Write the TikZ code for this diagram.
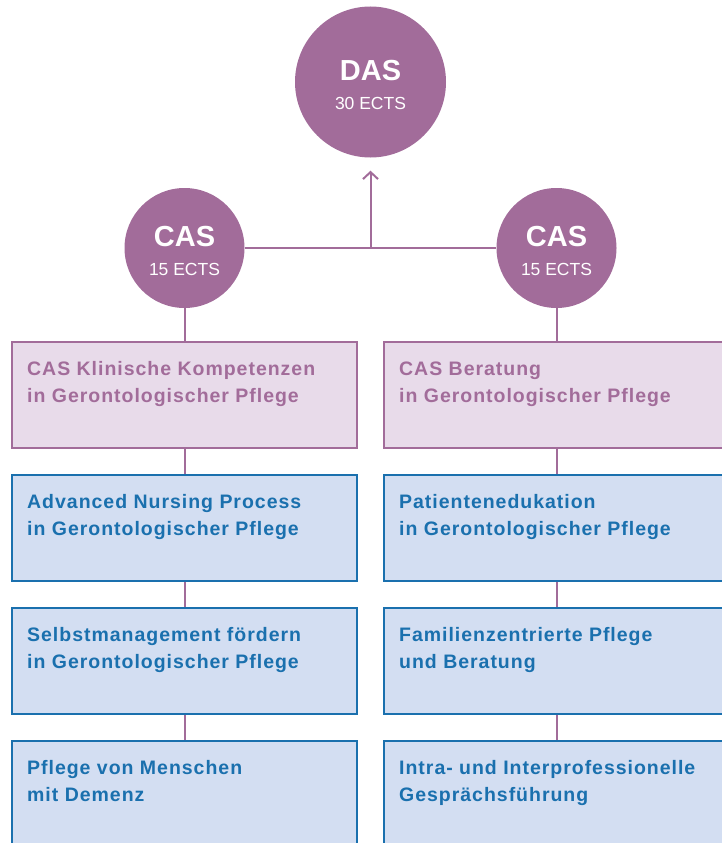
\documentclass[tikz,border=0pt]{standalone}
\usepackage{fontspec}
\setmainfont{Liberation Sans}
\newfontfamily\boxfont{Liberation Sans}[LetterSpace=5]
\usepackage{tikz}
\usetikzlibrary{arrows.meta, positioning}
\definecolor{lila}{HTML}{A26C9A}
\definecolor{lilalight}{HTML}{E8DBEA}
\definecolor{blau}{HTML}{1A70AE}
\definecolor{blaulight}{HTML}{D3DEF2}
\newcommand{\ringhead}[1]{{\fontsize{29}{29}\selectfont\bfseries\rule{0pt}{27pt}#1}}
\tikzset{
  ring/.style={circle, fill=lila, text=white, inner sep=0pt, align=center, font=\fontsize{17.5}{29}\selectfont},
  casbox/.style={rectangle, draw=lila, fill=lilalight, line width=2pt, minimum width=345pt, minimum height=106pt},
  modbox/.style={rectangle, draw=blau, fill=blaulight, line width=2pt, minimum width=345pt, minimum height=106pt},
  boxtext/.style={anchor=base west, inner sep=0pt, align=left, font=\boxfont\bfseries\fontsize{19.5}{27}\selectfont},
  line/.style={draw=lila, line width=2pt}
}

\begin{document}
\begin{tikzpicture}[x=1pt, y=-1pt, node distance=25pt]
    \useasboundingbox (0,0) rectangle (722,843);
    \clip (0,0) rectangle (722,843);

    % circles
    \node[ring, minimum size=151pt] (das) at (370.5,82) {\ringhead{DAS}\\30 ECTS};
    \node[ring, minimum size=120pt] (casl) at (184.5,248) {\ringhead{CAS}\\15 ECTS};
    \node[ring, minimum size=120pt] (casr) at (556.5,248) {\ringhead{CAS}\\15 ECTS};

    % left column
    \node[casbox] (kl0) at (184.5,394.5) {};
    \node[modbox, below=of kl0] (kl1) {};
    \node[modbox, below=of kl1] (kl2) {};
    \node[modbox, below=of kl2] (kl3) {};

    % right column
    \node[casbox] (br0) at (556.5,394.5) {};
    \node[modbox, below=of br0] (br1) {};
    \node[modbox, below=of br1] (br2) {};
    \node[modbox, below=of br2] (br3) {};

    \node[boxtext, text=lila] (tkl0) at ([shift={(16pt,-62pt)}]kl0.north west) {CAS Klinische Kompetenzen\\in Gerontologischer Pflege};
    \node[boxtext, text=blau] (tkl1) at ([shift={(16pt,-62pt)}]kl1.north west) {Advanced Nursing Process\\in Gerontologischer Pflege};
    \node[boxtext, text=blau] (tkl2) at ([shift={(16pt,-62pt)}]kl2.north west) {Selbstmanagement fördern\\in Gerontologischer Pflege};
    \node[boxtext, text=blau] (tkl3) at ([shift={(16pt,-62pt)}]kl3.north west) {Pflege von Menschen\\mit Demenz};

    \node[boxtext, text=lila] (tbr0) at ([shift={(16pt,-62pt)}]br0.north west) {CAS Beratung\\in Gerontologischer Pflege};
    \node[boxtext, text=blau] (tbr1) at ([shift={(16pt,-62pt)}]br1.north west) {Patientenedukation\\in Gerontologischer Pflege};
    \node[boxtext, text=blau] (tbr2) at ([shift={(16pt,-62pt)}]br2.north west) {Familienzentrierte Pflege\\und Beratung};
    \node[boxtext, text=blau] (tbr3) at ([shift={(16pt,-62pt)}]br3.north west) {Intra- und Interprofessionelle\\Gesprächsführung};

    \coordinate (jn) at (das |- casl);

    \draw[line] (casl.east) -- (casr.west);
    \draw[line, -{Straight Barb[length=7pt, width=15pt]}, shorten >=13pt] (jn) -- (das);
    \draw[line] (casl) -- (kl0);
    \draw[line] (kl0) -- (kl1);
    \draw[line] (kl1) -- (kl2);
    \draw[line] (kl2) -- (kl3);
    \draw[line] (casr) -- (br0);
    \draw[line] (br0) -- (br1);
    \draw[line] (br1) -- (br2);
    \draw[line] (br2) -- (br3);
  \end{tikzpicture}
\end{document}
